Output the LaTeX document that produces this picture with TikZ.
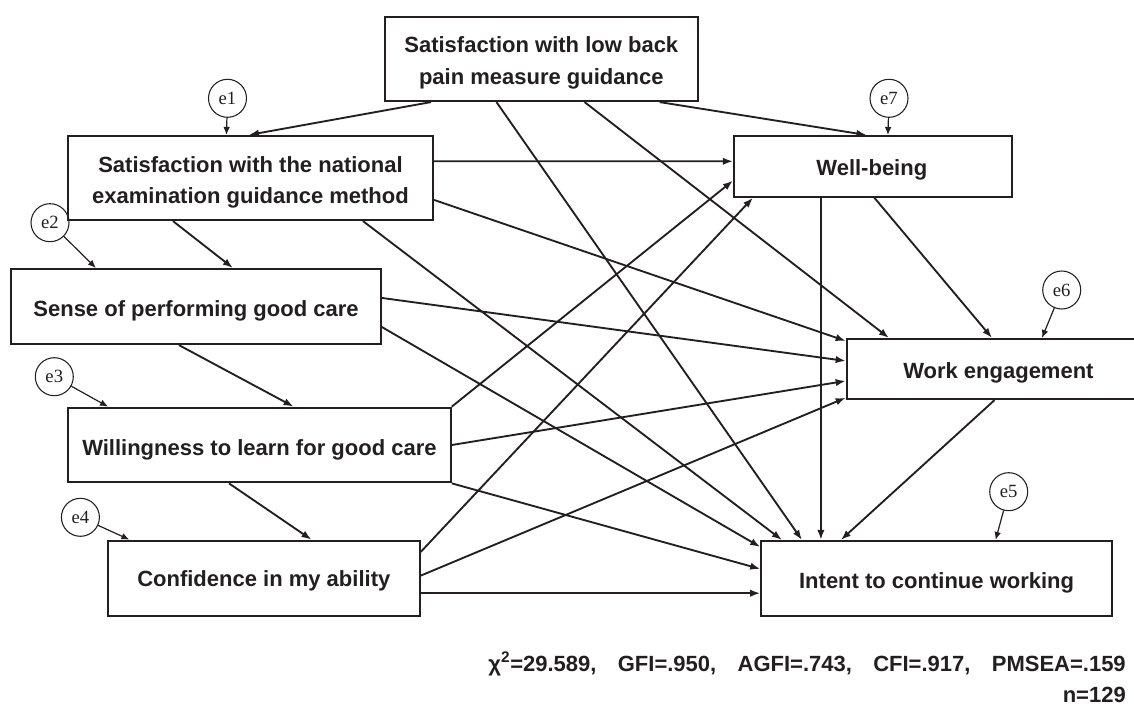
\documentclass[tikz,border=0pt]{standalone}
\usepackage{fontspec}
\setmainfont{Liberation Sans}
\newfontfamily\errfont{Liberation Serif}
\usetikzlibrary{calc,arrows.meta}
\definecolor{ink}{RGB}{35,31,32}
\begin{document}
\begin{tikzpicture}[x=0.75pt,y=-0.75pt, color=ink,
  box/.style={draw, line width=1.6pt, inner sep=0pt, fill=white},
  btxt/.style={inner sep=0pt, align=center,
    font=\fontsize{16.5pt}{23.5pt}\selectfont\bfseries},
  errc/.style={draw, circle, line width=0.8pt, minimum size=28.5pt, inner sep=0pt,
    font=\errfont\fontsize{14pt}{14pt}\selectfont},
  conn/.style={line width=1.4pt, -{Latex[length=7.5pt,width=5.5pt]}},
  econn/.style={line width=0.9pt, -{Latex[length=6pt,width=5pt]}},
  stat/.style={inner sep=0pt, font=\fontsize{16.5pt}{18pt}\selectfont\bfseries}
]
\useasboundingbox (0,0) rectangle (1134,705);

% boxes
\node[box, minimum width=235pt, minimum height=63.2pt] (satlow) at (541.3,58.9) {};
\node[box, minimum width=273.75pt, minimum height=63pt] (satnat) at (250.5,178) {};
\node[box, minimum width=277pt, minimum height=56.25pt] (sense) at (196,306.5) {};
\node[box, minimum width=287pt, minimum height=55.95pt] (will) at (259.4,445) {};
\node[box, minimum width=233.8pt, minimum height=56.25pt] (conf) at (263.8,578.2) {};
\node[box, minimum width=208.25pt, minimum height=45.5pt] (well) at (872.8,166.4) {};
\node[box, minimum width=227.5pt, minimum height=45pt] (work) at (998.4,369) {};
\node[box, minimum width=263pt, minimum height=56.25pt] (intent) at (936.6,578.5) {};

% box texts
\node[btxt] (satlowT) at ($(satlow.center)+(0,4)$) {Satisfaction with low back\\pain measure guidance};
\node[btxt] (satnatT) at ($(satnat.center)+(0,4.5)$) {Satisfaction with the national\\examination guidance method};
\node[btxt] (senseT) at ($(sense.center)+(0,4)$) {Sense of performing good care};
\node[btxt] (willT) at ($(will.center)+(0,4.5)$) {Willingness to learn for good care};
\node[btxt] (confT) at ($(conf.center)+(0,3)$) {Confidence in my ability};
\node[btxt] (wellT) at ($(well.center)+(-1,3.5)$) {Well-being};
\node[btxt] (workT) at ($(work.center)+(0,4)$) {Work engagement};
\node[btxt] (intentT) at ($(intent.center)+(0,4.5)$) {Intent to continue working};

% error terms
\node[errc] (e1) at (227.5,98.3) {e1};
\node[errc] (e2) at (50,222.7) {e2};
\node[errc] (e3) at (54.3,376.7) {e3};
\node[errc] (e4) at (80.4,517.3) {e4};
\node[errc] (e5) at (1008.7,491.7) {e5};
\node[errc] (e6) at (1061.7,290) {e6};
\node[errc] (e7) at (889,98.3) {e7};

\draw[econn] (e1) -- ($(satnat.north west)+(159.5,0)$);
\draw[econn] (e2) -- ($(sense.north west)+(85.6,0)$);
\draw[econn] (e3) -- ($(will.north west)+(41,0)$);
\draw[econn] (e4) -- ($(conf.north west)+(22.5,0)$);
\draw[econn] (e5) -- ($(intent.north west)+(235.4,0)$);
\draw[econn] (e6) -- ($(work.north west)+(196.3,0)$);
\draw[econn] (e7) -- ($(well.north west)+(155,0)$);

% paths
\draw[conn] ($(satlow.south west)+(47.4,0)$) -- ($(satnat.north west)+(182,0)$);
\draw[conn] ($(satlow.south west)+(112.9,0)$) -- ($(intent.north west)+(41.7,0)$);
\draw[conn] ($(satlow.south west)+(201,0)$) -- ($(work.north west)+(43.3,0)$);
\draw[conn] ($(satlow.south west)+(276.1,0)$) -- ($(well.north west)+(133.5,0)$);

\draw[conn] ($(satnat.north east)+(0,26.3)$) -- ($(well.north west)+(0,26.3)$);
\draw[conn] ($(satnat.north east)+(0,65)$) -- ($(work.north west)+(0,3)$);
\draw[conn] ($(satnat.south west)+(106,0)$) -- ($(sense.north west)+(222.6,0)$);
\draw[conn] ($(satnat.south west)+(296,0)$) -- ($(intent.north west)+(21.7,0)$);

\draw[conn] ($(sense.north east)+(0,30)$) -- ($(work.north west)+(0,23)$);
\draw[conn] ($(sense.north east)+(0,59)$) -- ($(intent.north west)+(0,7)$);
\draw[conn] ($(sense.south west)+(168.6,0)$) -- ($(will.north west)+(226.6,0)$);

\draw[conn] (will.north east) -- ($(well.north west)+(0,45.7)$);
\draw[conn] (will.east) -- ($(work.north west)+(0,43)$);
\draw[conn] (will.south east) -- ($(intent.north west)+(0,29)$);
\draw[conn] ($(will.south west)+(162,0)$) -- ($(conf.north west)+(204.6,0)$);

\draw[conn] ($(conf.north east)+(0,12.3)$) -- ($(well.south west)+(20,0)$);
\draw[conn] ($(conf.north east)+(0,36)$) -- ($(work.south west)+(0,-2.3)$);
\draw[conn] ($(conf.north east)+(0,53.6)$) -- ($(intent.north west)+(0,53.3)$);

\draw[conn] ($(well.south west)+(88,0)$) -- ($(intent.north west)+(60.7,0)$);
\draw[conn] ($(well.south west)+(141.5,0)$) -- ($(work.north west)+(146.3,0)$);
\draw[conn] ($(work.south west)+(148.9,0)$) -- ($(intent.north west)+(80.7,0)$);

% fit statistics
\node[stat, anchor=base east] (fit) at (1126,671)
  {χ\textsuperscript{2}=29.589,\hspace{16pt}GFI=.950,\hspace{16pt}AGFI=.743,\hspace{16pt}CFI=.917,\hspace{16pt}PMSEA=.159};
\node[stat, anchor=base east] (nn) at (1126,702) {n=129};
\end{tikzpicture}
\end{document}
